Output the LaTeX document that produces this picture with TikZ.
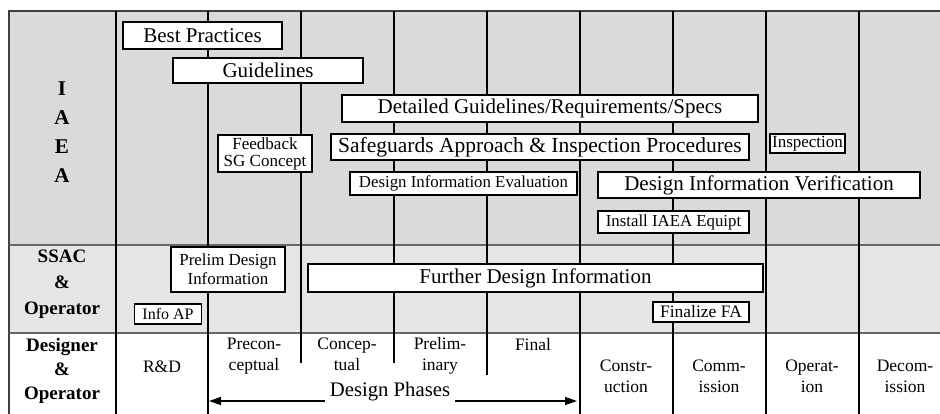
\documentclass[tikz,border=0pt]{standalone}
\usepackage{fontspec}
\setmainfont{Liberation Serif}
\usetikzlibrary{arrows.meta}
\definecolor{iaeagray}{gray}{0.855}
\definecolor{ssacgray}{gray}{0.9}

\begin{document}
\begin{tikzpicture}[x=1pt,y=-1pt,
    box/.style={draw,line width=1.8pt,fill=white,inner sep=0pt,align=center},
    big/.style={box,font=\fontsize{21}{23}\selectfont},
    small/.style={box,font=\fontsize{16.8}{18}\selectfont},
    head/.style={align=center,font=\bfseries\fontsize{19}{26}\selectfont},
    phase/.style={align=center,font=\fontsize{17.5}{21}\selectfont},
    grid/.style={line width=1.1pt}]
    \useasboundingbox (0,0) rectangle (940,414);
    \fill[iaeagray] (9,11) rectangle (940,245);
    \fill[ssacgray] (9,245) rectangle (940,333);
    \draw[line width=1.3pt,black!75] (940,11) -- (9,11) -- (9,414);
    \draw[line width=1.3pt,black!60] (9,245) -- (940,245) (9,333) -- (940,333);
    \foreach \x in {116,208,580,673,766,859} \draw[grid] (\x,11) -- (\x,414);
    \foreach \x/\y in {301/363,394/363,487/375} \draw[grid] (\x,11) -- (\x,\y);
    % row heads
    \node[head,font=\bfseries\fontsize{21}{29}\selectfont] (iaea) at (62,132) {I\\A\\E\\A};
    \node[head] (ssac) at (62,284.5) {SSAC\\\&\\Operator};
    \node[head,font=\bfseries\fontsize{19}{24}\selectfont] (designer) at (62,371) {Designer\\\&\\Operator};
    % IAEA row
    \node[big,minimum width=159,minimum height=27] (bestpr) at (202.5,35.5) {Best Practices};
    \node[big,minimum width=190,minimum height=25] (guide) at (268,70.5) {Guidelines};
    \node[big,minimum width=416,minimum height=27] (detail) at (550,108.5) {Detailed Guidelines/Requirements/Specs};
    \node[small,minimum width=94,minimum height=37,font=\fontsize{17}{17}\selectfont] (feedb) at (265,153.5) {Feedback\\SG Concept};
    \node[big,minimum width=418,minimum height=26,font=\fontsize{21.5}{23}\selectfont] (safeg) at (540,147) {Safeguards Approach \& Inspection Procedures};
    \node[small,minimum width=75,minimum height=19,font=\fontsize{17}{17}\selectfont] (insp) at (807.5,143.5) {Inspection};
    \node[small,minimum width=227,minimum height=23] (dieval) at (463.5,183.5) {Design Information Evaluation};
    \node[big,minimum width=322,minimum height=26] (diverif) at (759,185) {Design Information Verification};
    \node[small,minimum width=151,minimum height=22] (install) at (673.5,222) {Install IAEA Equipt};
    % SSAC row
    \node[small,minimum width=114,minimum height=45,font=\fontsize{16.9}{19}\selectfont] (prelim) at (228,269.5) {Prelim Design\\Information};
    \node[small,minimum width=67,minimum height=20,font=\fontsize{16}{18}\selectfont] (infoap) at (168,314) {Info AP};
    \node[big,minimum width=455,minimum height=28] (further) at (535.5,278) {Further Design Information};
    \node[small,minimum width=96,minimum height=20,font=\fontsize{17.5}{18}\selectfont] (finfa) at (701,312) {Finalize FA};
    % designer row
    \node[phase] (rd) at (162,367) {R\&D};
    \node[phase] (precon) at (254,356) {Precon-\strut\\ceptual\strut};
    \node[phase] (concep) at (347,356) {Concep-\strut\\tual\strut};
    \node[phase] (prelimin) at (440,356) {Prelim-\strut\\inary\strut};
    \node[phase] (final) at (533,345) {Final};
    \node[phase] (constr) at (626,377.5) {Constr-\strut\\uction\strut};
    \node[phase] (comm) at (719,377.5) {Comm-\strut\\ission\strut};
    \node[phase] (operat) at (812,377.5) {Operat-\strut\\ion\strut};
    \node[phase] (decom) at (905,377.5) {Decom-\strut\\ission\strut};
    \node[font=\fontsize{20.7}{22}\selectfont,inner sep=5pt] (phases) at (390,392) {Design Phases};
    \coordinate (phL) at (209,401);
    \coordinate (phR) at (577,401);
    \draw[line width=1.3pt,-{Triangle[length=12pt,width=8pt]}] (phases.west |- phL) -- (phL);
    \draw[line width=1.3pt,-{Triangle[length=12pt,width=8pt]}] (phases.east |- phR) -- (phR);
\end{tikzpicture}
\end{document}
